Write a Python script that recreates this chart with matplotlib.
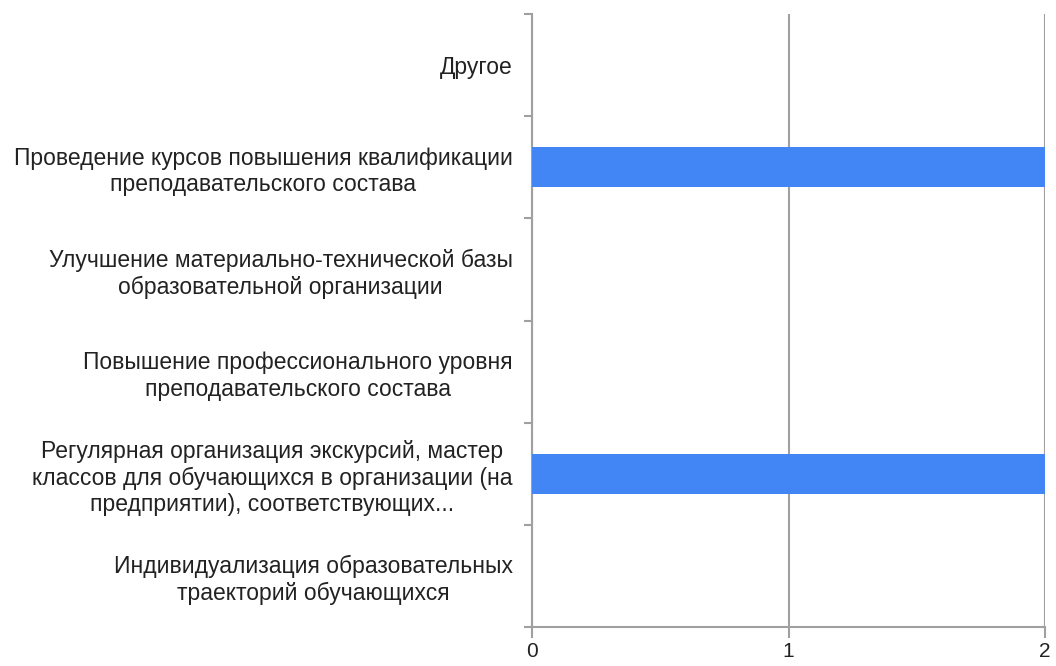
import numpy as np
import matplotlib
matplotlib.use('Agg')
import matplotlib.pyplot as plt

# categories from top to bottom, values = number of answers
categories = [
    "Другое",
    "Проведение курсов повышения квалификации\nпреподавательского состава",
    "Улучшение материально-технической базы\nобразовательной организации",
    "Повышение профессионального уровня\nпреподавательского состава",
    "Регулярная организация экскурсий, мастер\nклассов для обучающихся в организации (на\nпредприятии), соответствующих...",
    "Индивидуализация образовательных\nтраекторий обучающихся",
]
values = [0, 2, 0, 0, 2, 0]
x_ticks = [0, 1, 2]

BAR_COLOR = '#4285f4'
GRID_COLOR = '#a0a0a0'

plt.rcParams['font.family'] = ['Liberation Sans', 'DejaVu Sans']

fig = plt.figure(figsize=(10.56, 6.66), dpi=100)
ax = fig.add_axes([532 / 1056, 39 / 666, 513 / 1056, 613 / 666])

n = len(categories)
y = np.arange(n)
ax.barh(y, values, height=0.39, color=BAR_COLOR, zorder=3)

ax.set_xlim(0, 2)
ax.set_ylim(n - 0.5, -0.5)

ax.set_xticks(x_ticks)
ax.set_xticklabels([str(t) for t in x_ticks], fontsize=15, color='#222222')
ax.tick_params(axis='x', length=8, width=1.5, color=GRID_COLOR, pad=3)

ax.set_yticks(y)
ax.set_yticklabels(categories, fontsize=16.5, color='#222222')
ax.tick_params(axis='y', which='major', length=0, pad=14)
for lbl in ax.get_yticklabels():
    lbl.set_multialignment('center')
    lbl.set_linespacing(1.2)
ax.set_yticks(np.arange(n + 1) - 0.5, minor=True)
ax.tick_params(axis='y', which='minor', length=6, width=1.5, color=GRID_COLOR)

ax.grid(True, axis='x', color=GRID_COLOR, linewidth=1.5, zorder=0)
for side in ['top', 'right']:
    ax.spines[side].set_visible(False)
for side in ['left', 'bottom']:
    ax.spines[side].set_color(GRID_COLOR)
    ax.spines[side].set_linewidth(1.5)

fig.savefig('out.png', dpi=100)
